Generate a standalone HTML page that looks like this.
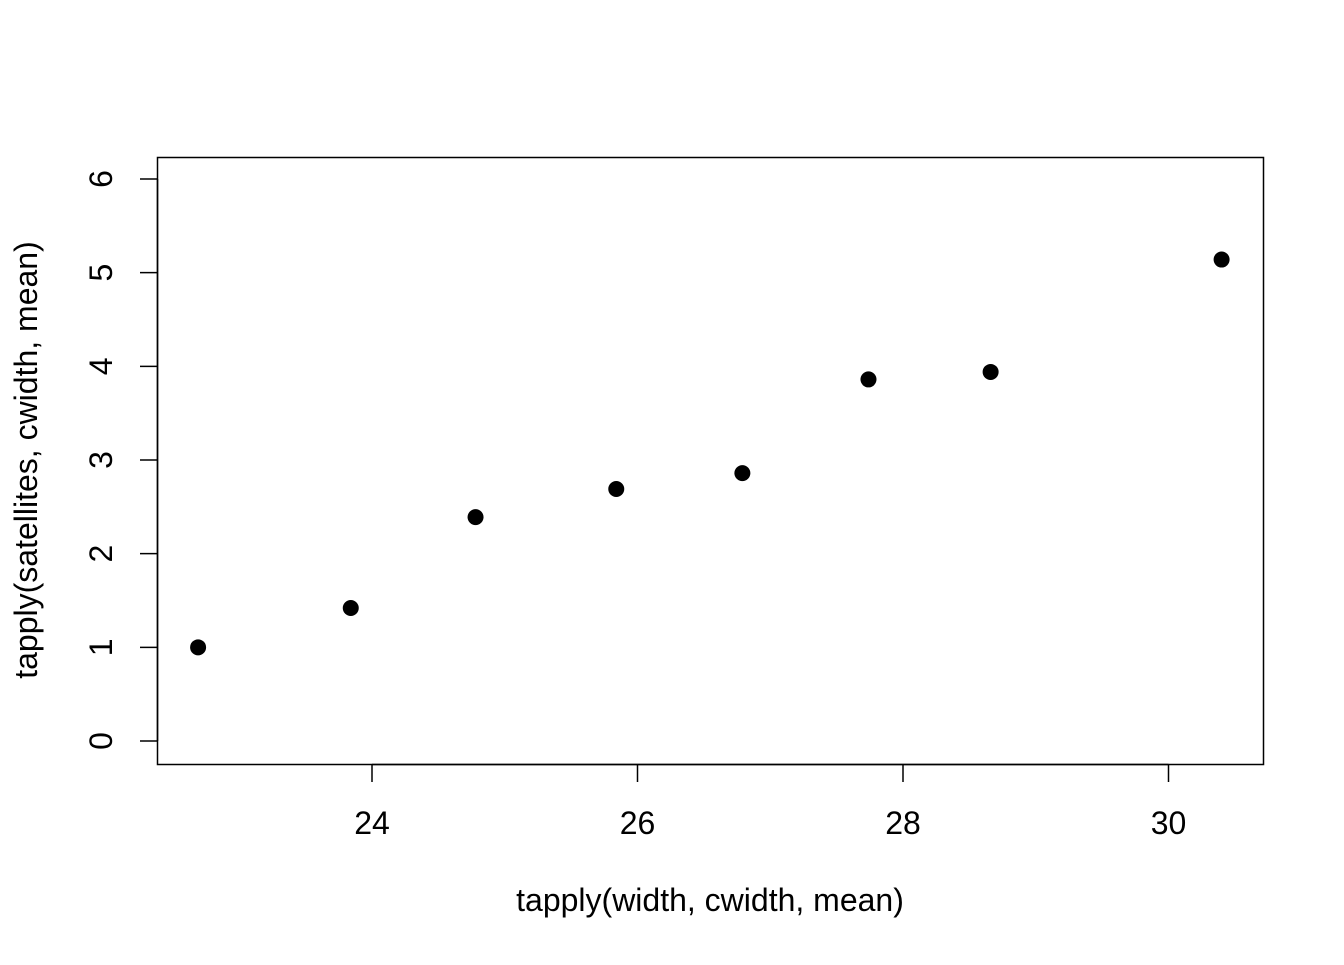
<!DOCTYPE html>
<html><head><meta charset="utf-8"><style>
body{margin:0;background:#fff}
svg text{font-family:"Liberation Sans",Arial,sans-serif;font-size:32px;fill:#000}
</style></head><body>
<svg id="chart" width="1344" height="960" xmlns="http://www.w3.org/2000/svg">
<rect x="157.5" y="157.5" width="1106" height="607" fill="none" stroke="#000" stroke-width="1.5"/>
<g id="xaxis"></g>
<g id="yaxis"></g>
<g id="pts"></g>
<text x="710" y="911" text-anchor="middle">tapply(width, cwidth, mean)</text>
<text transform="translate(37,460) rotate(-90)" text-anchor="middle">tapply(satellites, cwidth, mean)</text>
</svg>
<script>
const xVals=[22.69,23.84,24.78,25.84,26.79,27.74,28.66,30.40];
const yVals=[1.0,1.42,2.39,2.69,2.86,3.86,3.94,5.14];
const xTicks=[24,26,28,30];
const yTicks=[0,1,2,3,4,5,6];
const NS="http://www.w3.org/2000/svg";
function sx(v){return 372+(v-24)*132.75;}
function sy(v){return 741-v*93.67;}
function mk(tag,attrs,parent){const e=document.createElementNS(NS,tag);for(const k in attrs)e.setAttribute(k,attrs[k]);parent.appendChild(e);return e;}
const xa=document.getElementById('xaxis'),ya=document.getElementById('yaxis'),pg=document.getElementById('pts');
mk('line',{x1:sx(xTicks[0]),x2:sx(xTicks[xTicks.length-1]),y1:764.5,y2:764.5,stroke:'#000','stroke-width':1.5},xa);
xTicks.forEach(t=>{
  const l=mk('line',{x1:sx(t),x2:sx(t),y1:764.5,y2:782,stroke:'#000','stroke-width':1.5},xa);
  
  
  const tx=mk('text',{x:sx(t),y:834,'text-anchor':'middle'},xa);tx.textContent=t;
  
  
});
mk('line',{x1:157.5,x2:157.5,y1:sy(yTicks[0]),y2:sy(yTicks[yTicks.length-1]),stroke:'#000','stroke-width':1.5},ya);
yTicks.forEach(t=>{
  const l=mk('line',{x1:140,x2:157.5,y1:sy(t),y2:sy(t),stroke:'#000','stroke-width':1.5},ya);
  
  
  const tx=mk('text',{transform:`translate(112,${sy(t)}) rotate(-90)`,'text-anchor':'middle'},ya);tx.textContent=t;
  
  
});
xVals.forEach((v,i)=>{
  const c=mk('circle',{cx:sx(v),cy:sy(yVals[i]),r:8,fill:'#000'},pg);
  
  
});
</script>
</body></html>
